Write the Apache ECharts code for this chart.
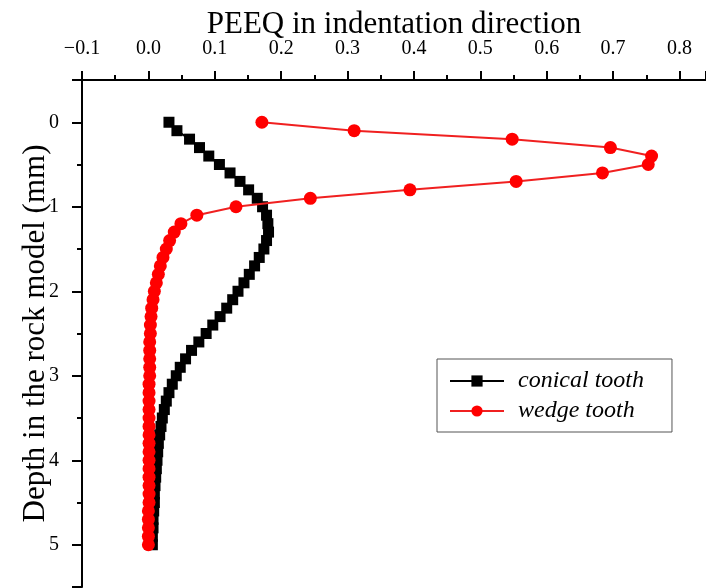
<!DOCTYPE html>
<html>
<head>
<meta charset="utf-8">
<script src="https://cdn.jsdelivr.net/npm/echarts@6/dist/echarts.min.js"></script>
<style>
html,body{margin:0;padding:0;background:#fff;}
#chart{width:706px;height:588px;}
</style>
</head>
<body>
<div id="chart"></div>
<script>
// Depth in the rock model (mm)
const depths = [0.0,0.1,0.2,0.3,0.4,0.5,0.6,0.7,0.8,0.9,
  1.0,1.1,1.2,1.3,1.4,1.5,1.6,1.7,1.8,1.9,
  2.0,2.1,2.2,2.3,2.4,2.5,2.6,2.7,2.8,2.9,
  3.0,3.1,3.2,3.3,3.4,3.5,3.6,3.7,3.8,3.9,
  4.0,4.1,4.2,4.3,4.4,4.5,4.6,4.7,4.8,4.9,5.0];
// PEEQ, conical tooth
const conical = [0.031,0.043,0.062,0.077,0.091,0.107,0.123,0.138,0.151,0.164,
  0.172,0.178,0.180,0.181,0.178,0.174,0.167,0.160,0.152,0.144,
  0.135,0.127,0.118,0.108,0.097,0.087,0.076,0.065,0.056,0.048,
  0.042,0.036,0.031,0.027,0.024,0.021,0.019,0.017,0.015,0.014,
  0.013,0.012,0.011,0.010,0.009,0.009,0.008,0.007,0.007,0.006,0.006];
// PEEQ, wedge tooth
const wedge = [0.171,0.310,0.548,0.696,0.758,0.753,0.684,0.554,0.394,0.244,
  0.132,0.073,0.049,0.039,0.032,0.027,0.022,0.018,0.015,0.012,
  0.009,0.007,0.005,0.004,0.003,0.003,0.002,0.002,0.002,0.002,
  0.002,0.001,0.001,0.001,0.001,0.001,0.001,0.001,0.001,0.001,
  0.001,0.001,0.001,0.001,0.001,0.001,0.000,0.000,0.000,0.000,0.000];
const seriesNames = ['conical tooth','wedge tooth'];
const xTitle = 'PEEQ in indentation direction';
const yTitle = 'Depth in the rock model (mm)';

const pairs = (vals) => vals.map((v, i) => [v, depths[i]]);
const serif = 'Liberation Serif';

const chart = echarts.init(document.getElementById('chart'), null, {renderer: 'canvas'});
chart.setOption({
  animation: false,
  backgroundColor: '#ffffff',
  grid: {left: 82, top: 80, right: 0, bottom: 1, containLabel: false},
  legend: {
    orient: 'vertical',
    left: 437, top: 359,
    padding: [10, 28, 9, 12],
    itemWidth: 54, itemHeight: 14, itemGap: 6,
    borderColor: '#555', borderWidth: 1,
    textStyle: {fontFamily: serif, fontStyle: 'italic', fontSize: 24, color: '#000', padding: [0,0,0,9]},
    data: seriesNames
  },
  xAxis: {
    type: 'value', position: 'top',
    min: -0.1, max: 0.84, splitNumber: 9,
    name: xTitle, nameLocation: 'middle', nameGap: 55, nameMoveOverlap: false,
    nameTextStyle: {fontFamily: serif, fontSize: 31, color: '#000', verticalAlign: 'middle', align: 'center'},
    axisLine: {onZero: false, lineStyle: {color: '#000', width: 2}},
    axisTick: {inside: false, length: 9, lineStyle: {color: '#000', width: 2}},
    minorTick: {show: true, splitNumber: 2, length: 5, lineStyle: {color: '#000', width: 2}},
    splitLine: {show: false},
    axisLabel: {
      showMaxLabel: false, margin: 21,
      fontFamily: serif, fontSize: 20, color: '#000',
      formatter: (v) => (v < 0 ? '\u2212' : '') + Math.abs(v).toFixed(1)
    }
  },
  yAxis: {
    type: 'value', inverse: true,
    min: -0.5, max: 5.5, splitNumber: 6,
    name: yTitle, nameLocation: 'middle', nameGap: 46, nameMoveOverlap: false,
    nameTextStyle: {fontFamily: serif, fontSize: 31, color: '#000', verticalAlign: 'middle', align: 'center'},
    axisLine: {onZero: false, lineStyle: {color: '#000', width: 2}},
    axisTick: {inside: false, length: 10, lineStyle: {color: '#000', width: 2}},
    minorTick: {show: true, splitNumber: 2, length: 5, lineStyle: {color: '#000', width: 2}},
    splitLine: {show: false},
    axisLabel: {
      showMinLabel: false, showMaxLabel: false, margin: 23,
      fontFamily: serif, fontSize: 20, color: '#000',
      formatter: (v) => Number.isInteger(v) ? String(v) : ''
    }
  },
  series: [
    {
      name: seriesNames[0], type: 'line', data: pairs(conical),
      symbol: 'rect', symbolSize: 11, showAllSymbol: true,
      lineStyle: {color: '#000', width: 2},
      itemStyle: {color: '#000'},
      z: 2
    },
    {
      name: seriesNames[1], type: 'line', data: pairs(wedge),
      symbol: 'circle', symbolSize: 13, showAllSymbol: true,
      lineStyle: {color: '#f02020', width: 2},
      itemStyle: {color: '#ff0000'},
      z: 3
    }
  ]
});
</script>
</body>
</html>
